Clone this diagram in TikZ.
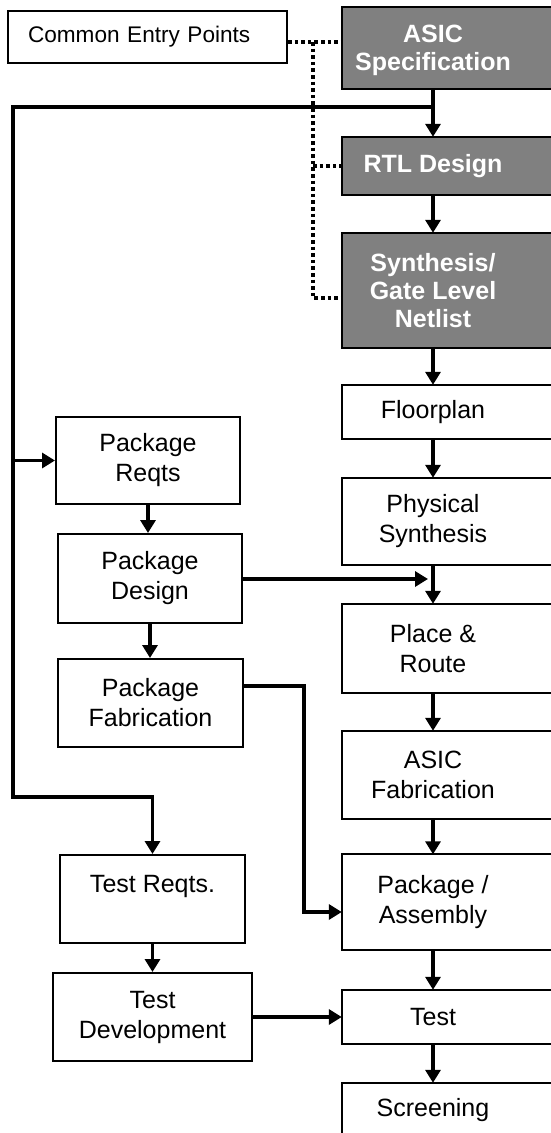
\documentclass[tikz,border=0pt]{standalone}
\usepackage{fontspec}
\setmainfont{Liberation Sans}
\usetikzlibrary{arrows.meta,backgrounds}
\definecolor{boxgray}{HTML}{808080}
\tikzset{
 lbox/.style={draw=black, line width=2pt, fill=white, inner sep=0pt, align=center, font=\fontsize{25}{30}\selectfont},
 rbox/.style={minimum width=182pt, inner sep=0pt, align=center, font=\fontsize{25}{30}\selectfont},
 gbox/.style={rbox, text=white, font=\fontsize{25}{28}\selectfont\bfseries},
 conn/.style={line width=3.3pt, -{Triangle[length=13pt,width=15pt]}},
 dots/.style={line width=3.6pt, dash pattern=on 3.6pt off 3pt},
 boxline/.style={line width=2pt, draw=black},
}
\begin{document}
\begin{tikzpicture}[x=1pt,y=-1pt]
\useasboundingbox (0,0) rectangle (550,1133);
% right column
\node[gbox, minimum height=82pt] (spec) at (433,48) {\rule{0pt}{22pt}ASIC\\Specification};
\node[gbox, minimum height=58pt] (rtl) at (433,166) {RTL Design};
\node[gbox, minimum height=115pt] (synth) at (433,290.5) {Synthesis/\\Gate Level\\Netlist};
\node[rbox, minimum height=54pt] (floor) at (433,412) {Floorplan};
\node[rbox, minimum height=87pt] (phys) at (433,521.5) {Physical\\Synthesis};
\node[rbox, minimum height=89pt] (place) at (433,648.5) {Place \&\\Route};
\node[rbox, minimum height=88pt] (afab) at (433,775) {ASIC\\Fabrication};
\node[rbox, minimum height=95pt] (pkgasm) at (433,902) {Package /\\Assembly};
\node[rbox, minimum height=54pt] (test) at (433,1017) {Test};
\node[rbox, minimum height=54pt] (screen) at (433,1110) {Screening};
% left column
\node[lbox, minimum width=279pt, text width=239pt, inner xsep=20pt, minimum height=52pt, align=left, font=\fontsize{22.6}{27}\selectfont] (cep) at (147.5,37) {Common Entry Points};
\node[lbox, minimum width=184pt, minimum height=87pt] (preq) at (148,460.5) {Package\\Reqts};
\node[lbox, minimum width=184pt, minimum height=89pt] (pdes) at (150,578.5) {Package\\Design};
\node[lbox, minimum width=185pt, minimum height=88pt] (pfab) at (150.5,703) {Package\\Fabrication};
\node[lbox, minimum width=185pt, minimum height=88pt] (treq) at (152.5,899) {Test Reqts.\\\mbox{}};
\node[lbox, minimum width=199pt, minimum height=88pt] (tdev) at (152.5,1017) {Test\\Development};
% boxes of the right column (cut by the right edge)
\begin{pgfonlayer}{background}
\fill[white] (0,0) rectangle (550,1133);
\foreach \n in {spec,rtl,synth}
  \draw[boxline, fill=boxgray] (\n.north west) rectangle ([xshift=40pt]\n.south east);
\foreach \n in {floor,phys,place,afab,pkgasm,test,screen}
  \draw[boxline, fill=white] (\n.north west) rectangle ([xshift=40pt]\n.south east);
\end{pgfonlayer}
% dotted entry lines
\coordinate (dj) at (313,42);
\coordinate (dsyn) at (313,298);
\draw[dots] (cep.east |- dj) -- (spec.west |- dj);
\draw[dots] (dj) -- (dsyn) -- (synth.west |- dsyn);
\draw[dots] (dj |- rtl.west) -- (rtl.west);
% main flow
\draw[conn] (spec.south) -- (rtl.north);
\draw[conn] (rtl.south) -- (synth.north);
\draw[conn] (synth.south) -- (floor.north);
\draw[conn] (floor.south) -- (phys.north);
\draw[conn] (phys.south) -- (place.north);
\draw[conn] (place.south) -- (afab.north);
\draw[conn] (afab.south) -- (pkgasm.north);
\draw[conn] (pkgasm.south) -- (test.north);
\draw[conn] (test.south) -- (screen.north);
% left side
\coordinate (lt) at (13,107);
\coordinate (lb) at (13,797);
\draw[conn] (spec.south |- lt) -- (lt) -- (lb) -| (treq.north);
\draw[conn] (lt |- preq.west) -- (preq.west);
\draw[conn] (preq.south) -- (preq.south |- pdes.north);
\draw[conn] (pdes.south) -- (pdes.south |- pfab.north);
\draw[conn] (treq.south) -- (treq.south |- tdev.north);
\coordinate (m1) at (428,579);
\draw[conn] (pdes.east |- m1) -- (m1);
\coordinate (pf1) at (304,686);
\coordinate (pf2) at (304,912);
\draw[conn] (pfab.east |- pf1) -- (pf1) -- (pf2) -- (pkgasm.west |- pf2);
\draw[conn] (tdev.east) -- (test.west);
\end{tikzpicture}
\end{document}
